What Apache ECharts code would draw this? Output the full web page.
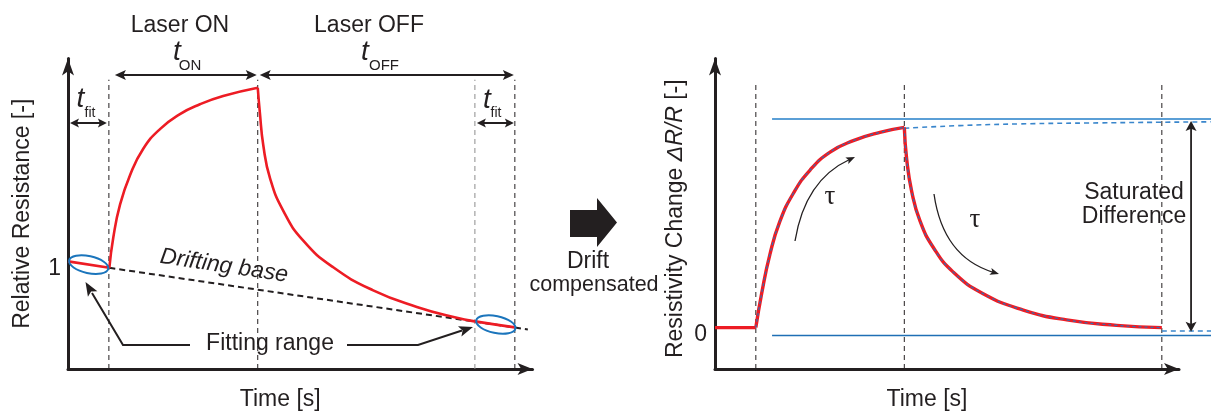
<!DOCTYPE html>
<html>
<head>
<meta charset="utf-8">
<script src="https://cdn.jsdelivr.net/npm/echarts/dist/echarts.min.js"></script>
<style>
html,body{margin:0;padding:0;background:#ffffff;}
#c{width:1211px;height:416px;}
</style>
</head>
<body>
<div id="c"></div>
<script>
// ---------------- DATA ----------------
// Left panel: relative resistance vs time
const baselineTime = [0, 8.9];
const baselineR    = [1.016, 0.991];
const onTime = [8.9, 9.75, 11.2, 13.35, 16.2, 19.8, 24.1, 28.4, 33.4, 40.85];
const onR    = [0.991, 1.108, 1.235, 1.349, 1.451, 1.527, 1.585, 1.623, 1.655, 1.687];
const offTime = [40.85, 41.3, 42.05, 43.5, 46.35, 50.65, 57.1, 65.7, 75.1, 83.7, 88.0, 96.2];
const offR    = [1.687, 1.592, 1.464, 1.337, 1.211, 1.096, 0.993, 0.904, 0.840, 0.798, 0.783, 0.761];
const driftTime = [8.9, 99.0];
const driftR    = [0.991, 0.753];
const leftMarkerTimes = [8.8, 40.85, 87.6, 96.2];
const leftMarkerTop = 1.718;
const leftTickValues = [1];

// Right panel: resistivity change (drift compensated)
const restTime  = [0, 8.8];
const restDelta = [0, 0];
const riseTime  = [8.8, 10.05, 11.85, 14.0, 16.9, 20.45, 24.8, 29.8, 35.55, 40.8];
const riseDelta = [0, 0.164, 0.355, 0.514, 0.649, 0.760, 0.848, 0.903, 0.943, 0.967];
const decayTime  = [40.8, 41.3, 42.4, 44.2, 47.05, 51.35, 57.8, 66.45, 75.8, 86.55, 96.3];
const decayDelta = [0.967, 0.816, 0.657, 0.514, 0.387, 0.268, 0.164, 0.085, 0.037, 0.011, 0];
const fitExtTime  = [40.8, 52.8, 65.7, 83.0, 96.3, 106.9];
const fitExtDelta = [0.967, 0.980, 0.988, 0.993, 0.996, 0.998];
const tailTime  = [96.3, 106.9];
const tailDelta = [0, 0];
const upperLineTime  = [12.3, 106.9];
const upperLineDelta = [1.011, 1.011];
const lowerLineTime  = [12.3, 106.9];
const lowerLineDelta = [-0.021, -0.021];
const rightMarkerTimes = [8.8, 40.8, 96.3];
const rightMarkerTop = 1.188;
const saturatedArrowTime = 102.6;
const saturatedRange = [0.998, -0.02];
const rightTickValues = [0];
const rightViewEnd = 106.9;   // the fitted levels run on past the axis arrow

// ---------------- STYLE ----------------
const INK = '#231f20';
const RED = '#ed1c24';
const FITBLUE = '#2f6fb4';
const ELLBLUE = '#1b75bc';
const UPBLUE = '#5b9fd6';
const LOWBLUE = '#1f6fb5';
const FONT = '"Liberation Sans", Arial, sans-serif';
const SERIF = '"Liberation Serif", "Times New Roman", serif';
const SMOOTH = 0.5;

function zip(a, b) { return a.map((v, i) => [v, b[i]]); }

function axisLine(size) {
  return { show: true, onZero: false, symbol: ['none', 'arrow'], symbolSize: size, lineStyle: { color: INK, width: 3 } };
}
function xAx(gi) {
  return {
    gridIndex: gi, type: 'value', min: 0, max: 100,
    axisLine: axisLine([9, 15]), axisTick: { show: false }, axisLabel: { show: false },
    splitLine: { show: false },
    name: 'Time [s]', nameLocation: 'middle', nameGap: 19,
    nameTextStyle: { fontSize: 23, color: INK, fontFamily: FONT, padding: [0, 40, 0, 0] }
  };
}
function lineSeries(gi, data, style, extra) {
  return Object.assign({
    type: 'line', xAxisIndex: gi, yAxisIndex: gi, data: data,
    symbol: 'none', showSymbol: false, silent: true, animation: false,
    lineStyle: style
  }, extra || {});
}

const series = [];
// left panel
leftMarkerTimes.forEach((t, i) => {
  series.push(lineSeries(0, [[t, 0.6], [t, leftMarkerTop]],
    { color: i === 2 ? '#8c8c8c' : INK, width: 1, type: [5, 4] }));
});
series.push(lineSeries(0, zip(driftTime, driftR), { color: INK, width: 2, type: [6, 4] }, { z: 3 }));
series.push(lineSeries(0, zip(baselineTime, baselineR), { color: RED, width: 2.6 }, { z: 4 }));
series.push(lineSeries(0, zip(onTime, onR), { color: RED, width: 2.6 }, { z: 4, smooth: SMOOTH }));
series.push(lineSeries(0, zip(offTime, offR), { color: RED, width: 2.6 }, { z: 4, smooth: SMOOTH }));

// right panel
rightMarkerTimes.forEach((t) => {
  series.push(lineSeries(1, [[t, -0.2], [t, rightMarkerTop]], { color: INK, width: 1, type: [5, 4] }));
});
// levels that run past the axis end live on an overlay grid with the same scale
series.push(lineSeries(2, zip(upperLineTime, upperLineDelta), { color: UPBLUE, width: 2 }));
series.push(lineSeries(2, zip(lowerLineTime, lowerLineDelta), { color: LOWBLUE, width: 1.5 }));
series.push(lineSeries(2, zip(fitExtTime, fitExtDelta), { color: '#3a86cc', width: 1.6, type: [5, 4] }, { smooth: SMOOTH }));
series.push(lineSeries(2, zip(tailTime, tailDelta), { color: '#3a86cc', width: 1.6, type: [5, 4] }));
series.push(lineSeries(1, zip(restTime, restDelta), { color: RED, width: 3.4 }, { z: 4 }));
series.push(lineSeries(1, zip(riseTime, riseDelta), { color: RED, width: 3.4 }, { z: 4, smooth: SMOOTH }));
series.push(lineSeries(1, zip(decayTime, decayDelta), { color: RED, width: 3.4 }, { z: 4, smooth: SMOOTH }));
series.push(lineSeries(1, zip(riseTime, riseDelta), { color: FITBLUE, width: 1.2, type: [3, 3] }, { z: 5, smooth: SMOOTH }));
series.push(lineSeries(1, zip(decayTime, decayDelta), { color: FITBLUE, width: 1.2, type: [3, 3] }, { z: 5, smooth: SMOOTH }));

const RIGHT_W = 464;
const option = {
  animation: false,
  backgroundColor: '#ffffff',
  textStyle: { fontFamily: FONT },
  grid: [
    { left: 68, top: 58.5, width: 464.5, height: 314.5 },
    { left: 715, top: 58.5, width: RIGHT_W, height: 314.5 },
    { left: 715, top: 58.5, width: RIGHT_W * rightViewEnd / 100, height: 314.5 }
  ],
  xAxis: [xAx(0), xAx(1),
    { gridIndex: 2, type: 'value', min: 0, max: rightViewEnd, show: false }],
  yAxis: [
    {
      gridIndex: 0, type: 'value', min: 0.6, max: 1.8, interval: 0.2,
      axisLine: axisLine([9, 17]), axisTick: { show: false }, splitLine: { show: false },
      axisLabel: { show: true, customValues: leftTickValues, fontSize: 23, color: INK, margin: 7, fontFamily: FONT,
        verticalAlign: 'top', lineHeight: 7,
        formatter: (v) => (Math.abs(v - 1) < 1e-6 ? '1' : '') },
      name: 'Relative Resistance [-]', nameLocation: 'middle', nameGap: 34,
      nameTextStyle: { fontSize: 23, color: INK, fontFamily: FONT }
    },
    {
      gridIndex: 1, type: 'value', min: -0.2, max: 1.3, interval: 0.1,
      axisLine: axisLine([9, 17]), axisTick: { show: false }, splitLine: { show: false },
      axisLabel: { show: true, customValues: rightTickValues, fontSize: 23, color: INK, margin: 8, fontFamily: FONT,
        verticalAlign: 'top', lineHeight: 14,
        formatter: (v) => (Math.abs(v) < 1e-6 ? '0' : '') },
      name: 'Resistivity Change {i|ΔR/R} [-]', nameLocation: 'middle', nameGap: 28,
      nameTextStyle: { fontSize: 23, color: INK, fontFamily: FONT, padding: [0, 10, 0, 0],
        rich: { i: { fontStyle: 'italic', fontSize: 23, color: INK, fontFamily: FONT } } }
    },
    { gridIndex: 2, type: 'value', min: -0.2, max: 1.3, show: false }
  ],
  series: series
};

const chart = echarts.init(document.getElementById('c'), null, { renderer: 'canvas' });
chart.setOption(option);

// ---------------- ANNOTATIONS ----------------
const P0 = (x, y) => chart.convertToPixel({ xAxisIndex: 0, yAxisIndex: 0 }, [x, y]);
const P1 = (x, y) => chart.convertToPixel({ xAxisIndex: 1, yAxisIndex: 1 }, [x, y]);
const G = [];

function head(tx, ty, ang, L, W, color) {
  const c = Math.cos(ang), s = Math.sin(ang);
  const nx = -s, ny = c;
  const bx = tx - L * c, by = ty - L * s;
  const nb = L * 0.78;
  G.push({ type: 'polygon', z: 100, silent: true,
    shape: { points: [[tx, ty], [bx + nx * W / 2, by + ny * W / 2], [tx - nb * c, ty - nb * s], [bx - nx * W / 2, by - ny * W / 2]] },
    style: { fill: color || INK } });
}
function seg(pts, w, color, dash) {
  G.push({ type: 'polyline', z: 99, silent: true, shape: { points: pts },
    style: { stroke: color || INK, lineWidth: w, fill: null, lineDash: dash || null } });
}
function dblArrowH(x1, x2, y, L, W, lw) {
  seg([[x1 + L * 0.6, y], [x2 - L * 0.6, y]], lw);
  head(x1, y, Math.PI, L, W);
  head(x2, y, 0, L, W);
}
function text(str, x, y, font, opts) {
  const o = opts || {};
  G.push({ type: 'text', z: 101, silent: true, x: x, y: y, rotation: o.rotation || 0,
    style: { text: str, x: 0, y: 0, font: font, fill: INK,
      align: o.align || 'center', textAlign: o.align || 'center',
      verticalAlign: 'middle', textVerticalAlign: 'middle' } });
}

// left panel interval arrows
const lm = leftMarkerTimes.map((t) => P0(t, 1)[0]);
const axisX0 = P0(0, 1)[0];
dblArrowH(lm[0] + 6, lm[1] - 1, 75, 11, 10, 2);
dblArrowH(lm[1] + 2, lm[3] - 1, 75, 11, 10, 2);
dblArrowH(axisX0 + 2, lm[0] - 2, 123, 9, 9, 2);
dblArrowH(lm[2] + 2, lm[3] - 1, 123, 9, 9, 2);

const F23 = '23px ' + FONT;
text('Laser ON', 180, 26, F23);
text('Laser OFF', 369, 26, F23);
text('t', 177, 52, 'italic 28px ' + FONT);
text('ON', 190, 66, '15px ' + FONT);
text('t', 365, 52, 'italic 28px ' + FONT);
text('OFF', 384, 66, '15px ' + FONT);
text('t', 80.5, 99, 'italic 28px ' + FONT);
text('fit', 90, 113, '14px ' + FONT);
text('t', 487, 100, 'italic 28px ' + FONT);
text('fit', 496, 113, '14px ' + FONT);

// fitting range ellipses (centred on the fitted segments)
function ellipseOn(a, b) {
  const cx = (a[0] + b[0]) / 2, cy = (a[1] + b[1]) / 2;
  const ang = Math.atan2(b[1] - a[1], b[0] - a[0]);
  G.push({ type: 'ellipse', z: 98, silent: true, x: cx, y: cy, rotation: -(ang + 0.06),
    shape: { cx: 0, cy: 0, rx: 20, ry: 8.5 },
    style: { stroke: ELLBLUE, lineWidth: 2, fill: null } });
}
ellipseOn(P0(baselineTime[0], baselineR[0]), P0(baselineTime[1], baselineR[1]));
ellipseOn(P0(offTime[offTime.length - 2], offR[offR.length - 2]), P0(offTime[offTime.length - 1], offR[offR.length - 1]));

text('Drifting base', 224, 266, 'italic 23px ' + FONT, { rotation: -0.148 });
text('Fitting range', 270, 344, F23);
// fitting range pointers
seg([[190, 345], [123, 345], [92, 293]], 2);
head(85.5, 282, Math.atan2(282 - 345, 85.5 - 123), 14, 11);
seg([[347, 345], [418, 345], [462, 330.5]], 2);
head(473, 327, Math.atan2(327 - 345, 473 - 418), 14, 11);

// middle block arrow
G.push({ type: 'polygon', z: 100, silent: true,
  shape: { points: [[570, 210], [597, 210], [597, 198], [617, 222.5], [597, 247], [597, 237], [570, 237]] },
  style: { fill: INK } });
text('Drift', 588, 262, F23);
text('compensated', 594, 285, '21.5px ' + FONT);

// right panel: tau arrows
function curvedArrow(x1, y1, cx, cy, x2, y2) {
  const ang = Math.atan2(y2 - cy, x2 - cx);
  G.push({ type: 'bezierCurve', z: 99, silent: true,
    shape: { x1: x1, y1: y1, cpx1: cx, cpy1: cy, x2: x2 - 6 * Math.cos(ang), y2: y2 - 6 * Math.sin(ang) },
    style: { stroke: INK, lineWidth: 1.3, fill: null } });
  head(x2, y2, ang, 9, 7);
}
curvedArrow(795, 241, 805, 180, 855, 157);
curvedArrow(934, 194, 943, 257, 999, 274);
text('τ', 830, 197, '27px ' + SERIF);
text('τ', 975, 220, '27px ' + SERIF);

// saturated difference arrow
const sa = P1(saturatedArrowTime, saturatedRange[0]);
const sb = P1(saturatedArrowTime, saturatedRange[1]);
seg([[sa[0], sa[1] + 6], [sb[0], sb[1] - 6]], 1.8);
head(sa[0], sa[1], -Math.PI / 2, 10, 11);
head(sb[0], sb[1], Math.PI / 2, 10, 11);
text('Saturated', 1134, 193, F23);
text('Difference', 1134, 217, F23);

chart.setOption({ graphic: { elements: G } });
</script>
</body>
</html>
